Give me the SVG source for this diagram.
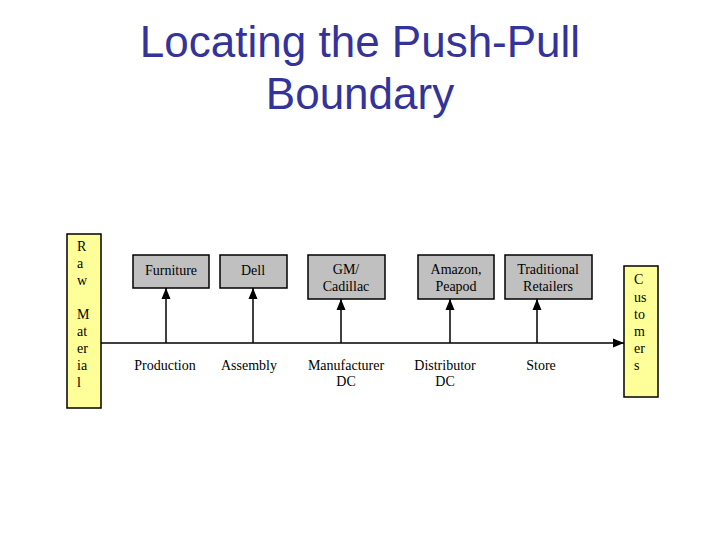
<svg xmlns="http://www.w3.org/2000/svg" width="720" height="540" viewBox="0 0 720 540">
<style>
.title{font-family:"Liberation Sans",Arial,sans-serif;font-size:44px;fill:#333399;text-anchor:middle}
.box{fill:#c0c0c0;stroke:#000;stroke-width:1.5}
.ybox{fill:#ffff99;stroke:#000;stroke-width:1.5}
.t{font-family:"Liberation Serif","Times New Roman",serif;font-size:14px;fill:#000;text-anchor:middle}
.v{font-family:"Liberation Serif","Times New Roman",serif;font-size:14px;fill:#000}
.c{stroke:#000;stroke-width:1.5;fill:none}
</style>
<defs>
<marker id="ah" markerUnits="userSpaceOnUse" markerWidth="12" markerHeight="12" viewBox="0 0 12 12" refX="11" refY="6" orient="auto">
<path d="M0,1.5 L11,6 L0,10.5 Z" fill="#000"/>
</marker>
</defs>
<rect width="720" height="540" fill="#fff"/>
<g id="title">
<text class="title" x="360" y="57">Locating the Push-Pull</text>
<text class="title" x="360" y="109">Boundary</text>
</g>
<g id="raw-material">
<rect class="ybox" x="67" y="234" width="34" height="174"/>
<text class="v" x="77" y="251">R</text>
<text class="v" x="77" y="268">a</text>
<text class="v" x="77" y="285">w</text>
<text class="v" x="77" y="319">M</text>
<text class="v" x="77" y="336">at</text>
<text class="v" x="77" y="353">er</text>
<text class="v" x="77" y="370">ia</text>
<text class="v" x="77" y="387">l</text>
</g>
<g id="customers">
<rect class="ybox" x="624" y="266" width="34" height="131"/>
<text class="v" x="634" y="284">C</text>
<text class="v" x="634" y="302">us</text>
<text class="v" x="634" y="319">to</text>
<text class="v" x="634" y="336">m</text>
<text class="v" x="634" y="353">er</text>
<text class="v" x="634" y="370">s</text>
</g>
<g id="furniture">
<rect class="box" x="133" y="255" width="76" height="33"/>
<text class="t" x="171" y="275">Furniture</text>
</g>
<g id="dell">
<rect class="box" x="220" y="255" width="67" height="33"/>
<text class="t" x="253" y="275">Dell</text>
</g>
<g id="gm-cadillac">
<rect class="box" x="308" y="255" width="77" height="44"/>
<text class="t" x="346" y="274">GM/</text>
<text class="t" x="346" y="291">Cadillac</text>
</g>
<g id="amazon-peapod">
<rect class="box" x="418" y="255" width="76" height="44"/>
<text class="t" x="456" y="274">Amazon,</text>
<text class="t" x="456" y="291">Peapod</text>
</g>
<g id="traditional-retailers">
<rect class="box" x="505" y="255" width="87" height="44"/>
<text class="t" x="548" y="274">Traditional</text>
<text class="t" x="548" y="291">Retailers</text>
</g>
<g id="stage-labels">
<text class="t" x="165" y="370">Production</text>
<text class="t" x="249" y="370">Assembly</text>
<text class="t" x="346" y="370">Manufacturer</text>
<text class="t" x="346" y="386">DC</text>
<text class="t" x="445" y="370">Distributor</text>
<text class="t" x="445" y="386">DC</text>
<text class="t" x="541" y="370">Store</text>
</g>
<g id="connectors">
<line class="c" x1="101" y1="343" x2="624" y2="343" marker-end="url(#ah)"/>
<line class="c" x1="166" y1="343" x2="166" y2="288" marker-end="url(#ah)"/>
<line class="c" x1="253" y1="343" x2="253" y2="288" marker-end="url(#ah)"/>
<line class="c" x1="341" y1="343" x2="341" y2="299" marker-end="url(#ah)"/>
<line class="c" x1="450" y1="343" x2="450" y2="299" marker-end="url(#ah)"/>
<line class="c" x1="537" y1="343" x2="537" y2="299" marker-end="url(#ah)"/>
</g>
</svg>
